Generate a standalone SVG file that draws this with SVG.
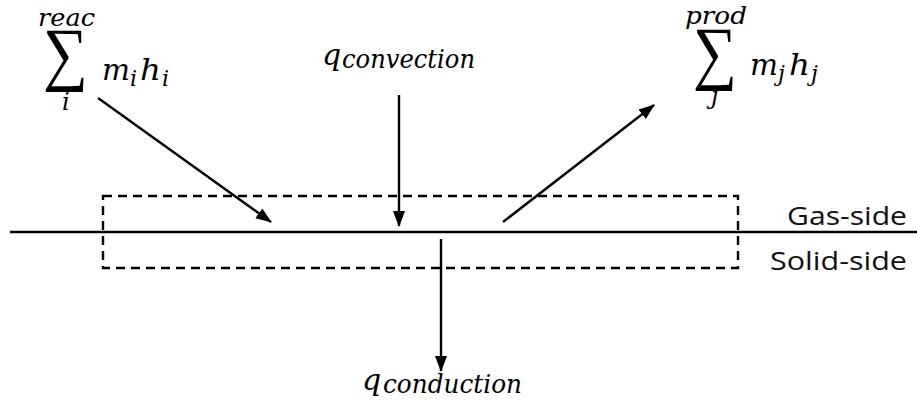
<svg xmlns="http://www.w3.org/2000/svg" width="917" height="403" viewBox="0 0 917 403">
<style>
.ln{stroke:#000;stroke-width:2.4;fill:none}
.m{font-family:"DejaVu Serif","Liberation Serif",serif;font-style:italic;fill:#000}
.sig{font-family:"Liberation Serif","DejaVu Serif",serif;fill:#000}
.lab{font-family:"Open Sans","Noto Sans",sans-serif;font-size:26px;fill:#111}
</style>
<defs>
<marker id="ah" markerUnits="userSpaceOnUse" markerWidth="16" markerHeight="14" viewBox="0 0 16 14" refX="15" refY="7" orient="auto">
<path d="M0,1 L16,7 L0,13 Z" fill="#000"/>
</marker>
</defs>
<rect width="917" height="403" fill="#fff"/>
<g id="interface">
<line class="ln" x1="10" y1="232" x2="917" y2="232"/>
</g>
<g id="control-volume">
<rect class="ln" x="103" y="196" width="635" height="72" stroke-dasharray="9,6"/>
</g>
<g id="connectors">
<line class="ln" x1="98" y1="98" x2="271" y2="222" marker-end="url(#ah)"/>
<line class="ln" x1="399" y1="95" x2="399" y2="226" marker-end="url(#ah)"/>
<line class="ln" x1="503" y1="222" x2="654" y2="105" marker-end="url(#ah)"/>
<line class="ln" x1="441" y1="239" x2="441" y2="371" marker-end="url(#ah)"/>
</g>
<g id="reactants">
<text class="m" x="38" y="26" font-size="24" textLength="57" lengthAdjust="spacingAndGlyphs">reac</text>
<text class="sig" x="43" y="77" font-size="71" textLength="45" lengthAdjust="spacingAndGlyphs">∑</text>
<text class="m" x="62" y="110" font-size="24">i</text>
<text class="m" x="102" y="80" font-size="30" textLength="28" lengthAdjust="spacingAndGlyphs">m</text>
<text class="m" x="130" y="86" font-size="22">i</text>
<text class="m" x="140" y="80" font-size="30" textLength="21" lengthAdjust="spacingAndGlyphs">h</text>
<text class="m" x="162" y="86" font-size="22">i</text>
</g>
<g id="convection">
<text class="m" x="322" y="65" font-size="30">q</text>
<text class="m" x="342" y="68" font-size="26" textLength="133" lengthAdjust="spacingAndGlyphs">convection</text>
</g>
<g id="products">
<text class="m" x="685" y="24" font-size="24" textLength="62" lengthAdjust="spacingAndGlyphs">prod</text>
<text class="sig" x="693" y="76" font-size="71" textLength="44" lengthAdjust="spacingAndGlyphs">∑</text>
<text class="m" x="711" y="104" font-size="24">j</text>
<text class="m" x="750" y="75" font-size="30" textLength="28" lengthAdjust="spacingAndGlyphs">m</text>
<text class="m" x="778" y="81" font-size="22">j</text>
<text class="m" x="789" y="75" font-size="30" textLength="21" lengthAdjust="spacingAndGlyphs">h</text>
<text class="m" x="811" y="81" font-size="22">j</text>
</g>
<g id="conduction">
<text class="m" x="362" y="390" font-size="30">q</text>
<text class="m" x="383" y="393" font-size="26" textLength="139" lengthAdjust="spacingAndGlyphs">conduction</text>
</g>
<g id="labels">
<text class="lab" x="907" y="225" text-anchor="end" textLength="120" lengthAdjust="spacingAndGlyphs">Gas-side</text>
<text class="lab" x="907" y="270" text-anchor="end" textLength="137" lengthAdjust="spacingAndGlyphs">Solid-side</text>
</g>
</svg>
